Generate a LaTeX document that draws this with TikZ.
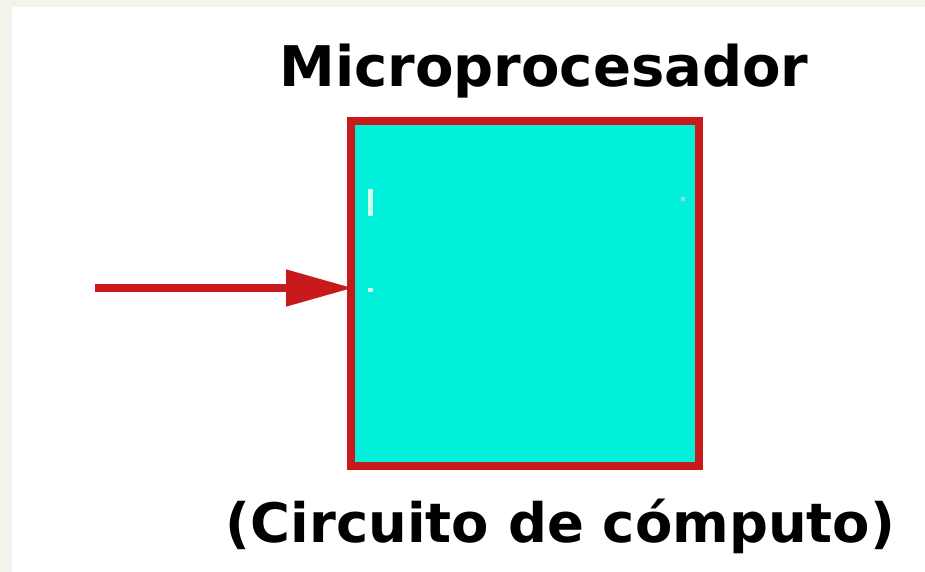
\documentclass[tikz,border=0pt]{standalone}
\usepackage{fontspec}
\setmainfont{DejaVu Sans}
\usetikzlibrary{arrows.meta}
\definecolor{boxred}{HTML}{C81A1A}
\definecolor{chipcyan}{HTML}{00F0DC}
\definecolor{paper}{HTML}{F3F5EC}
\definecolor{fleck}{HTML}{CCFFEE}
\definecolor{fleckb}{HTML}{88DDE8}
\tikzset{
  chip/.style={draw=boxred, fill=chipcyan, line width=8pt, minimum width=348pt, minimum height=345pt, inner sep=0pt},
  label/.style={font=\fontsize{56}{60}\selectfont\bfseries, inner sep=0pt, anchor=base},
  smalllabel/.style={label, font=\fontsize{54.4}{60}\selectfont\bfseries},
  feed/.style={draw=boxred, line width=8pt, -{Triangle[length=67pt,width=35pt]}, shorten >=-6pt}
}
\begin{document}
\begin{tikzpicture}[x=1pt,y=-1pt]
\useasboundingbox (0,0) rectangle (925,572);
\fill[paper] (0,0) rectangle (925,572);
\fill[white] (12,7) rectangle (925,572);
\node[chip] (cpu) at (525,293.5) {};
\fill[fleck] (368,189) rectangle (373,216);
\fill[fleck] (368,288) rectangle (373,292);
\fill[fleckb] (681,197) rectangle (685,201);
\node[label] (title) at (544,87) {Microprocesador};
\node[smalllabel] (caption) at (560.5,542) {(Circuito de cómputo)};
\coordinate (src) at (95,288);
\draw[feed] (src) -- (src -| cpu.west);
\end{tikzpicture}
\end{document}
